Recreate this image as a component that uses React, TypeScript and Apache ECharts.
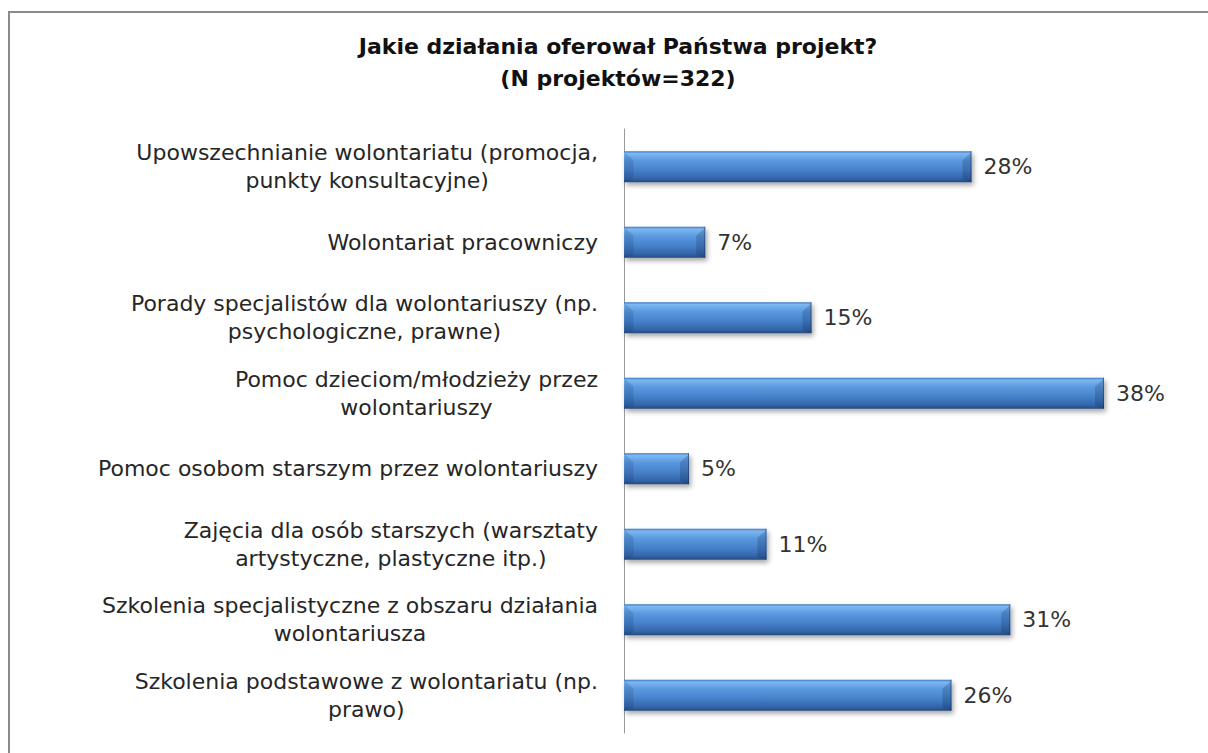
import React, { useEffect, useRef } from "react";
import * as echarts from "echarts";

const categories: string[] = [
  "Upowszechnianie wolontariatu (promocja,\npunkty konsultacyjne)",
  "Wolontariat pracowniczy",
  "Porady specjalistów dla wolontariuszy (np.\npsychologiczne, prawne)",
  "Pomoc dzieciom/młodzieży przez\nwolontariuszy",
  "Pomoc osobom starszym przez wolontariuszy",
  "Zajęcia dla osób starszych (warsztaty\nartystyczne, plastyczne itp.)",
  "Szkolenia specjalistyczne z obszaru działania\nwolontariusza",
  "Szkolenia podstawowe z wolontariatu (np.\nprawo)",
];

const values: number[] = [27.8, 6.5, 15.0, 38.4, 5.2, 11.4, 30.9, 26.2];

const titleLines: string[] = [
  "Jakie działania oferował Państwa projekt?",
  "(N projektów=322)",
];

const LABEL_FONT = "'DejaVu Sans', sans-serif";
const BAR_W = 31;

export default function App() {
  const ref = useRef<HTMLDivElement>(null);

  useEffect(() => {
    if (!ref.current) return;
    const chart = echarts.init(ref.current, null, { renderer: "svg" });

    const barGradient = new echarts.graphic.LinearGradient(0, 0, 0, 1, [
      { offset: 0, color: "#3c74bd" },
      { offset: 0.07, color: "#7cb8f2" },
      { offset: 0.3, color: "#5b99df" },
      { offset: 0.6, color: "#4682cb" },
      { offset: 0.88, color: "#3465a8" },
      { offset: 1, color: "#234a80" },
    ]);

    chart.setOption({
      animation: false,
      backgroundColor: "#ffffff",
      grid: { left: 624, top: 129, width: 500, bottom: 20, containLabel: false },
      xAxis: {
        type: "value",
        min: 0,
        max: 40,
        show: false,
      },
      yAxis: {
        type: "category",
        inverse: true,
        data: categories,
        axisLine: { show: true, lineStyle: { color: "#9a9a9a", width: 1 } },
        axisTick: { show: false },
        axisLabel: {
          interval: 0,
          margin: 26,
          formatter: (v: string) =>
            v
              .split("\n")
              .map((l) => "{c|" + l + "}")
              .join("\n"),
          rich: {
            c: {
              align: "center",
              fontFamily: LABEL_FONT,
              fontSize: 22,
              lineHeight: 28,
              color: "#262626",
            },
          },
        },
        splitLine: { show: false },
      },
      series: [
        {
          type: "bar",
          data: values,
          barWidth: BAR_W,
          z: 2,
          itemStyle: {
            color: barGradient,
            shadowColor: "rgba(0,0,0,0.35)",
            shadowBlur: 5,
            shadowOffsetX: 2,
            shadowOffsetY: 3,
          },
          label: {
            show: true,
            position: "right",
            distance: 12,
            formatter: (p: any) => Math.round(p.value) + "%",
            fontFamily: LABEL_FONT,
            fontSize: 22,
            color: "#333333",
          },
        },
        {
          type: "custom",
          z: 3,
          silent: true,
          data: values.map((v, i) => [v, i]),
          renderItem: (params: any, api: any) => {
            const v = api.value(0);
            const idx = api.value(1);
            const start = api.coord([0, idx]);
            const end = api.coord([v, idx]);
            const x0 = start[0] + 0.5;
            const x1 = end[0];
            const y0 = start[1] - BAR_W / 2;
            const y1 = start[1] + BAR_W / 2;
            const b = 9;
            return {
              type: "group",
              children: [
                {
                  type: "polygon",
                  shape: {
                    points: [
                      [x0, y0 + 1],
                      [x0 + b, y0 + b],
                      [x0 + b, y1 - 3],
                      [x0, y1],
                    ],
                  },
                  style: { fill: "rgba(10,30,70,0.14)" },
                },
                {
                  type: "polygon",
                  shape: {
                    points: [
                      [x1, y0 + 1],
                      [x1 - b, y0 + b],
                      [x1 - b, y1 - 3],
                      [x1, y1],
                    ],
                  },
                  style: { fill: "rgba(10,30,70,0.2)" },
                },
                {
                  type: "line",
                  shape: { x1: x1 - 0.5, y1: y0, x2: x1 - 0.5, y2: y1 },
                  style: { stroke: "rgba(20,40,80,0.45)", lineWidth: 1 },
                },
              ],
            };
          },
        },
      ],
      graphic: [
        {
          type: "rect",
          shape: { x: 9, y: 12, width: 1300, height: 900 },
          style: { fill: "none", stroke: "#8a8a8a", lineWidth: 2 },
          silent: true,
        },
        {
          type: "text",
          x: 618,
          y: 62,
          style: {
            text: titleLines.join("\n"),
            align: "center",
            verticalAlign: "middle",
            fontFamily: LABEL_FONT,
            fontWeight: "bold",
            fontSize: 22,
            lineHeight: 32,
            fill: "#111111",
          },
        },
      ],
    });

    return () => chart.dispose();
  }, []);

  return (
    <div
      ref={ref}
      style={{ position: "fixed", left: 0, top: 0, width: 1208, height: 753 }}
    />
  );
}
